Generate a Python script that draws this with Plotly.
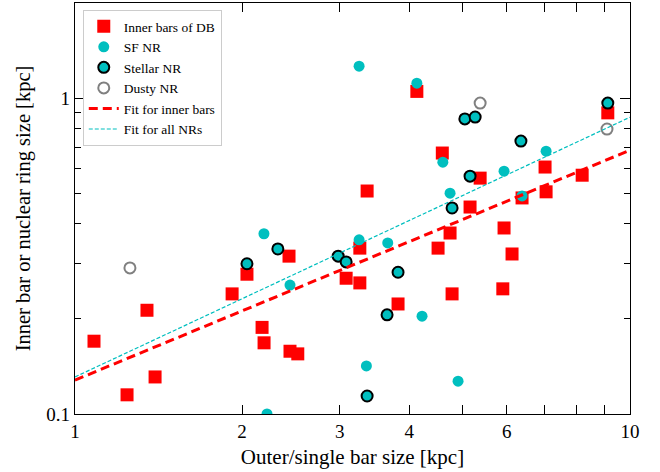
import plotly.graph_objects as go

# ---- data (kpc) ----
inner_x = [1.082, 1.241, 1.348, 1.394, 1.919, 2.041, 2.173, 2.191, 2.43, 2.44, 2.52,
           3.08, 3.26, 3.26, 3.36, 3.82, 4.13, 4.51, 4.59, 4.74, 4.78, 5.15, 5.37,
           5.93, 6.13, 5.90, 6.39, 7.03, 7.06, 8.20, 9.12]
inner_y = [0.170, 0.115, 0.213, 0.131, 0.240, 0.277, 0.188, 0.168, 0.316, 0.158, 0.155,
           0.269, 0.335, 0.260, 0.508, 0.223, 1.05, 0.335, 0.670, 0.374, 0.240, 0.452, 0.558,
           0.388, 0.321, 0.249, 0.483, 0.605, 0.505, 0.570, 0.898]

sf_x = [2.218, 2.19, 2.44, 3.25, 3.25, 3.35, 3.66, 4.13, 4.22, 4.60, 4.74, 4.90, 5.93, 6.39, 7.06]
sf_y = [0.100, 0.372, 0.256, 1.262, 0.356, 0.142, 0.348, 1.115, 0.204, 0.627, 0.500, 0.127, 0.587, 0.490, 0.679]

stellar_x = [2.041, 2.32, 2.98, 3.08, 3.82, 3.65, 3.36, 4.78, 5.15, 5.04, 5.26, 6.36, 9.12]
stellar_y = [0.299, 0.333, 0.316, 0.303, 0.281, 0.206, 0.114, 0.449, 0.566, 0.859, 0.871, 0.731, 0.964]

dusty_x = [1.256, 5.37, 9.09]
dusty_y = [0.290, 0.964, 0.798]

fit_x = [1.0, 10.0]
fit_inner_y = [0.128, 0.684]
fit_nr_y = [0.131, 0.870]

x_tickvals = [1, 2, 3, 4, 6, 10]
x_ticktext = ["1", "2", "3", "4", "6", "10"]
x_minor = [5, 7, 8, 9]
y_tickvals = [0.1, 1]
y_ticktext = ["0.1", "1"]
y_minor = [0.2, 0.3, 0.4, 0.5, 0.6, 0.7, 0.8, 0.9, 2]

RED = "#ff0000"
CYAN = "#00bfbf"
FONT = "Liberation Serif"

fig = go.Figure()
fig.add_trace(go.Scatter(x=inner_x, y=inner_y, mode="markers", name="Inner bars of DB",
                         marker=dict(symbol="square", size=13, color=RED, line=dict(width=0))))
fig.add_trace(go.Scatter(x=sf_x, y=sf_y, mode="markers", name="SF NR",
                         marker=dict(symbol="circle", size=11, color=CYAN, line=dict(width=0))))
fig.add_trace(go.Scatter(x=stellar_x, y=stellar_y, mode="markers", name="Stellar NR",
                         marker=dict(symbol="circle", size=11, color=CYAN,
                                     line=dict(width=2, color="black"))))
fig.add_trace(go.Scatter(x=dusty_x, y=dusty_y, mode="markers", name="Dusty NR",
                         marker=dict(symbol="circle-open", size=11, color="#808080",
                                     line=dict(width=2, color="#808080"))))
fig.add_trace(go.Scatter(x=fit_x, y=fit_inner_y, mode="lines", name="Fit for inner bars",
                         line=dict(color=RED, width=3, dash="9px,5px")))
fig.add_trace(go.Scatter(x=fit_x, y=fit_nr_y, mode="lines", name="Fit for all NRs",
                         line=dict(color=CYAN, width=1.2, dash="4px,2px")))

axis_common = dict(
    showline=True, linecolor="black", linewidth=1.3, mirror="allticks",
    ticks="inside", tickcolor="black", tickwidth=1.3,
    showgrid=False, zeroline=False,
    tickfont=dict(family=FONT, size=19, color="black"),
)

fig.update_xaxes(type="log", range=[0, 1], tickmode="array",
                 tickvals=x_tickvals, ticktext=x_ticktext, ticklen=9,
                 minor=dict(tickmode="array", tickvals=x_minor, ticks="inside",
                            ticklen=9, tickcolor="black", tickwidth=1.3, showgrid=False),
                 title=dict(text="Outer/single bar size [kpc]",
                            font=dict(family=FONT, size=21, color="black"), standoff=8),
                 **axis_common)
fig.update_yaxes(type="log", range=[-1, 0.301], tickmode="array",
                 tickvals=y_tickvals, ticktext=y_ticktext, ticklen=10,
                 minor=dict(tickmode="array", tickvals=y_minor, ticks="inside",
                            ticklen=6, tickcolor="black", tickwidth=1.3, showgrid=False),
                 title=dict(text="Inner bar or nuclear ring size [kpc]",
                            font=dict(family=FONT, size=20.5, color="black"), standoff=10),
                 **axis_common)

fig.update_layout(
    width=660, height=472,
    margin=dict(l=75, r=30, t=3, b=58),
    plot_bgcolor="white", paper_bgcolor="white",
    font=dict(family=FONT, color="black"),
    legend=dict(x=0.014, y=0.983, xanchor="left", yanchor="top",
                bgcolor="white", bordercolor="#cccccc", borderwidth=1,
                font=dict(family=FONT, size=13.5, color="black"),
                itemwidth=30, tracegroupgap=0),
    showlegend=True,
)

fig.write_html("out.html", config={"displayModeBar": False},
               post_script="document.body.style.margin='0px';document.body.style.padding='0px';")
